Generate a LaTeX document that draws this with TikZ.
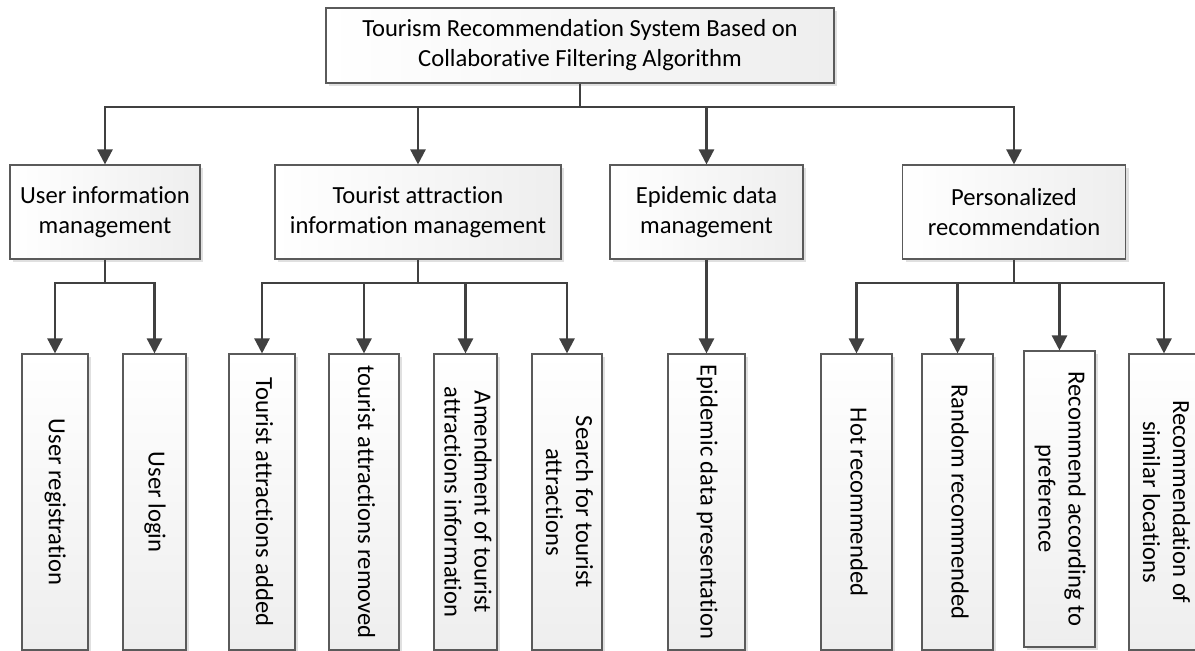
\documentclass[tikz,border=0pt]{standalone}
\usepackage{fontspec}
\setmainfont{Carlito}[Ligatures=NoCommon]
\usetikzlibrary{arrows.meta,shadows}
\definecolor{boxline}{HTML}{5A5A5A}
\definecolor{boxshade}{HTML}{EEEEEE}
\definecolor{linkc}{HTML}{404040}
\newcommand{\vtext}[1]{\rotatebox{-90}{\begin{tabular}{@{}c@{}}#1\end{tabular}}}
\begin{document}
\begin{tikzpicture}[x=1pt,y=-1pt,
  font=\fontsize{24.6}{30}\selectfont,
  box/.style={draw=boxline, line width=1.1pt, left color=white, right color=boxshade,
    align=center, inner sep=0pt,
    drop shadow={shadow xshift=3pt, shadow yshift=-3pt, fill=black, opacity=0.12}},
  leaf/.style={box, top color=white, bottom color=boxshade, minimum height=296pt},
  link/.style={draw=linkc, line width=2.4pt},
  arr/.style={link, -{Triangle[width=15pt,length=15pt]}}]
\useasboundingbox (0,0) rectangle (1195,651);
\clip (0,0) rectangle (1195,651);

% root
\node[box, minimum width=508pt, minimum height=75pt] (root) at (580,45.5)
  {Tourism Recommendation System Based on\\Collaborative Filtering Algorithm};

% modules
\node[box, minimum width=190pt, minimum height=94pt] (user) at (105,212)
  {User information\\management};
\node[box, minimum width=286pt, minimum height=94pt] (tour) at (418,212)
  {Tourist attraction\\information management};
\node[box, minimum width=193pt, minimum height=94pt] (epi) at (706.5,212)
  {Epidemic data\\management};
\node[box, minimum width=223pt, minimum height=94pt] (pers) at (1014,212)
  {Personalized\\recommendation};

% functions
\node[leaf, minimum width=66pt] (ureg) at (55,502) {\vtext{User registration}};
\node[leaf, minimum width=63pt] (ulog) at (154.5,502) {\vtext{User login}};
\node[leaf, minimum width=66pt] (tadd) at (262,502) {\vtext{Tourist attractions added}};
\node[leaf, minimum width=70pt] (trem) at (364,502) {\vtext{tourist attractions removed}};
\node[leaf, minimum width=63pt] (tamd) at (465.5,502) {\vtext{Amendment of tourist\\attractions information}};
\node[leaf, minimum width=70pt] (tsea) at (567,502) {\vtext{Search for tourist\\attractions}};
\node[leaf, minimum width=77pt] (epre) at (706.5,502) {\vtext{Epidemic data presentation}};
\node[leaf, minimum width=71pt] (hot) at (856.5,502) {\vtext{Hot recommended}};
\node[leaf, minimum width=71pt] (rand) at (957.5,502) {\vtext{Random recommended}};
\node[leaf, minimum width=71pt] (pref) at (1059.5,499) {\vtext{Recommend according to\\preference}};
\node[leaf, minimum width=70pt] (sim) at (1164,502) {\vtext{Recommendation of\\similar locations}};

% bus junctions
\coordinate (rb) at (580,107);
\coordinate (ub) at (105,283);
\coordinate (tb) at (418,283);
\coordinate (pb) at (1014,283);

% root to modules
\draw[link] (root.south) -- (rb);
\draw[arr] (rb) -| (user);
\draw[arr] (rb) -| (tour);
\draw[arr] (rb) -| (epi);
\draw[arr] (rb) -| (pers);

% modules to functions
\draw[link] (user.south) -- (ub);
\draw[arr] (ub) -| (ureg);
\draw[arr] (ub) -| (ulog);

\draw[link] (tour.south) -- (tb);
\draw[arr] (tb) -| (tadd);
\draw[arr] (tb) -| (trem);
\draw[arr] (tb) -| (tamd);
\draw[arr] (tb) -| (tsea);

\draw[arr] (epi) -- (epre);

\draw[link] (pers.south) -- (pb);
\draw[arr] (pb) -| (hot);
\draw[arr] (pb) -| (rand);
\draw[arr] (pb) -| (pref);
\draw[arr] (pb) -| (sim);
\end{tikzpicture}
\end{document}
